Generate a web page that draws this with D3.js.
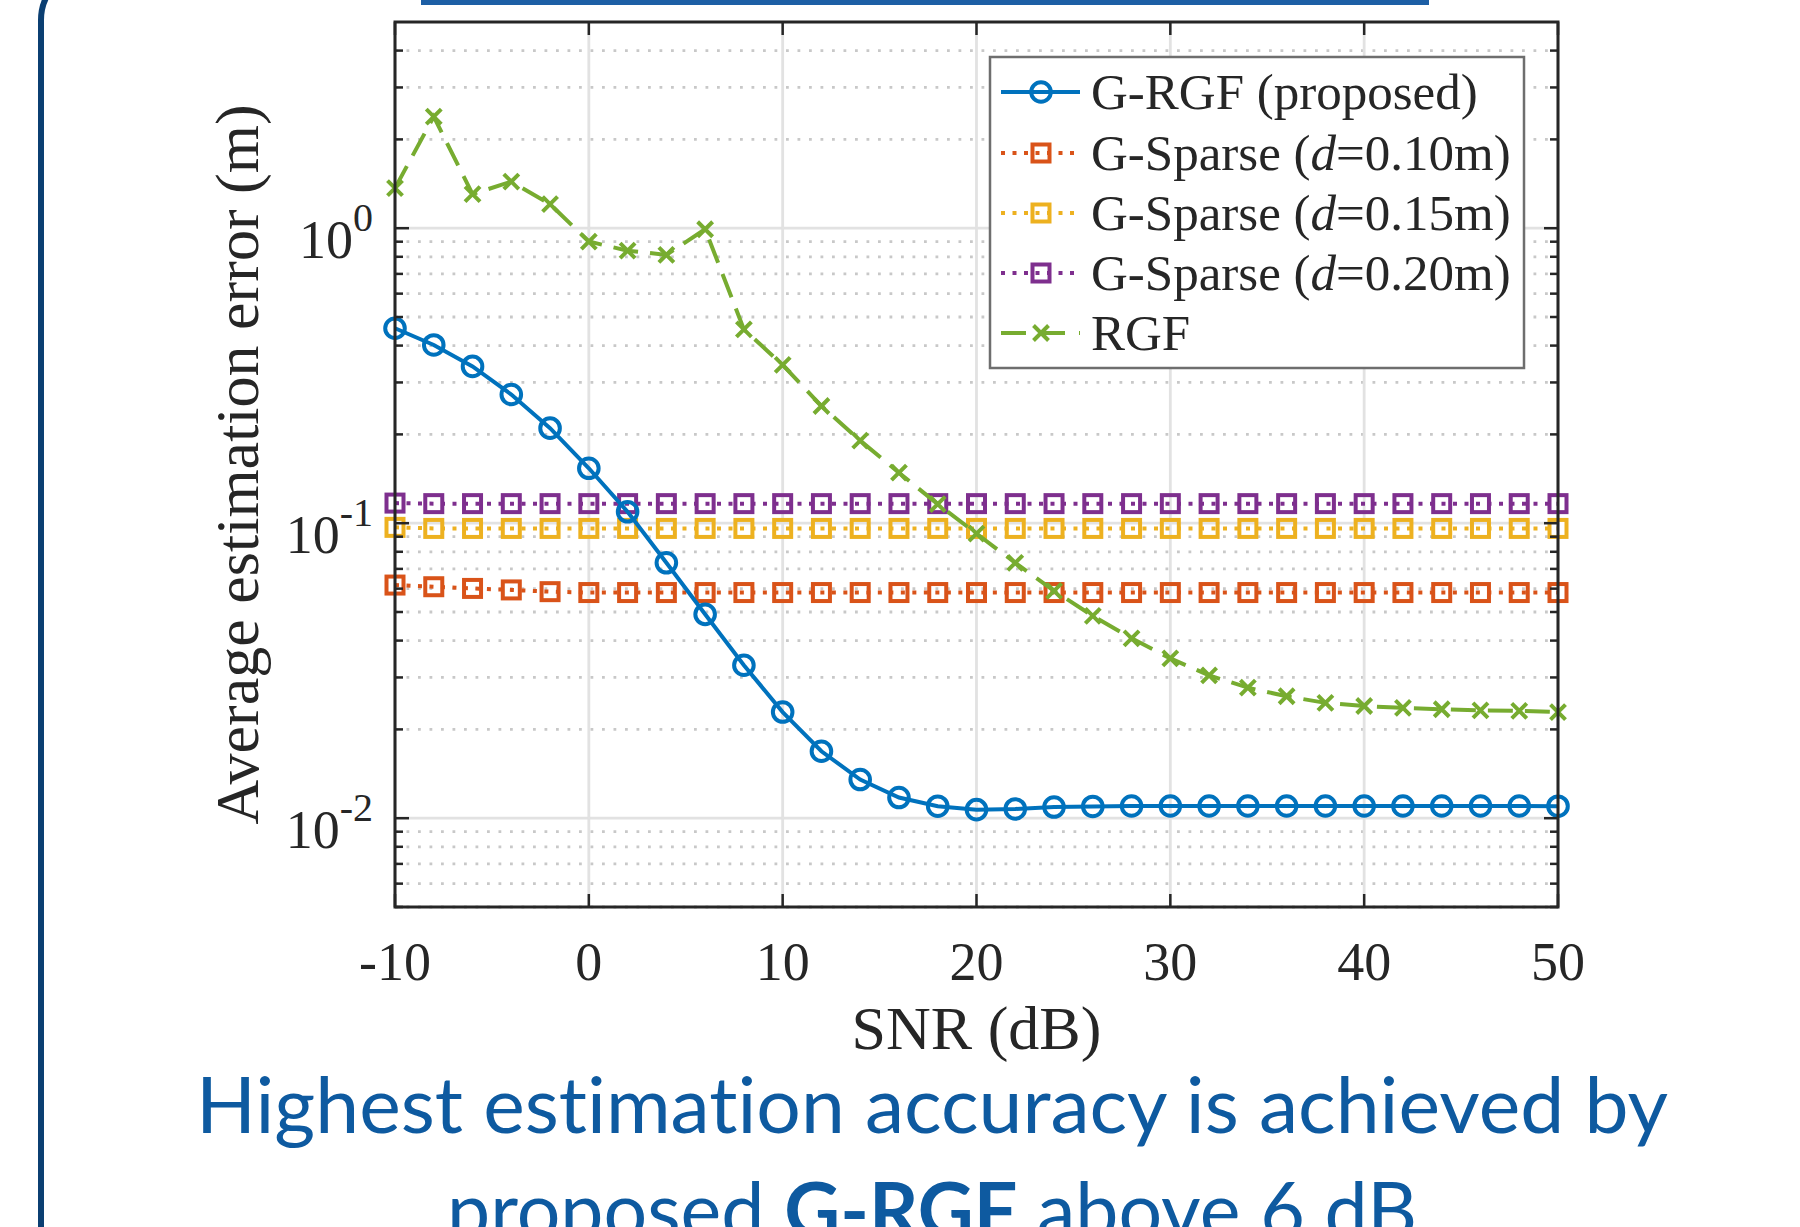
<!DOCTYPE html>
<html><head><meta charset="utf-8">
<script src="https://cdn.jsdelivr.net/npm/d3@7"></script>
<style>body{margin:0;background:#fff;} svg{display:block} text{font-variant-ligatures:none;font-feature-settings:"liga" 0;}</style>
</head><body>
<svg id="c" width="1800" height="1227"></svg>
<script>
// ---------------- data ----------------
const snrDb = [-10,-8,-6,-4,-2,0,2,4,6,8,10,12,14,16,18,20,22,24,26,28,30,32,34,36,38,40,42,44,46,48,50];
const gRGF = [0.458,0.402,0.340,0.273,0.210,0.1535,0.1093,0.0734,0.0491,0.0330,0.0229,0.01686,0.01352,0.01175,0.01098,
              0.01069,0.01075,0.01091,0.01096,0.0110,0.0110,0.0110,0.0110,0.0110,0.0110,0.0110,0.0110,0.0110,0.0110,0.0110,0.01098];
const gSparse010 = [0.0617,0.0609,0.0601,0.0594,0.0586,0.0582,0.0582,0.0582,0.0582,0.0582,0.0582,0.0582,0.0582,0.0582,0.0582,0.0582,
                    0.0582,0.0582,0.0582,0.0582,0.0582,0.0582,0.0582,0.0582,0.0582,0.0582,0.0582,0.0582,0.0582,0.0582,0.0582];
const gSparse015 = [0.0968,0.0960,0.0960,0.0960,0.0960,0.0960,0.0960,0.0960,0.0960,0.0960,0.0960,0.0960,0.0960,0.0960,0.0960,0.0960,
                    0.0960,0.0960,0.0960,0.0960,0.0960,0.0960,0.0960,0.0960,0.0960,0.0960,0.0960,0.0960,0.0960,0.0960,0.0960];
const gSparse020 = [0.1170,0.1165,0.1165,0.1165,0.1165,0.1165,0.1165,0.1165,0.1165,0.1165,0.1165,0.1165,0.1165,0.1165,0.1165,0.1165,
                    0.1165,0.1165,0.1165,0.1165,0.1165,0.1165,0.1165,0.1165,0.1165,0.1165,0.1165,0.1165,0.1165,0.1165,0.1165];
const rgf = [1.367,2.39,1.304,1.439,1.206,0.901,0.839,0.812,0.992,0.454,
             0.344,0.2496,0.1905,0.1483,0.1161,0.0922,0.0734,0.0590,0.0485,0.0407,0.0348,
             0.0305,0.0277,0.0259,0.0246,0.0240,0.02365,0.0234,0.0232,0.0231,0.0229];
const xTicks = [-10,0,10,20,30,40,50];
const xTickLabels = ["-10","0","10","20","30","40","50"];
const yMajor = [0.01,0.1,1];
const yTickExp = ["-2","-1","0"];
const yMinor = [0.005,0.006,0.007,0.008,0.009,0.02,0.03,0.04,0.05,0.06,0.07,0.08,0.09,0.2,0.3,0.4,0.5,0.6,0.7,0.8,0.9,2,3,4];
const seriesNames = ["G-RGF (proposed)","G-Sparse (d=0.10m)","G-Sparse (d=0.15m)","G-Sparse (d=0.20m)","RGF"];
const xLabel = "SNR (dB)";
const yLabel = "Average estimation error (m)";
const captionLine1 = "Highest estimation accuracy is achieved by";

// ---------------- setup ----------------
const svg = d3.select("#c");
const L = 395, R = 1558, T = 22, B = 907;
const x = d3.scaleLinear().domain([-10, 50]).range([L, R]);
const y = d3.scaleLog().domain([0.005, 5]).range([B, T]);
const serif = "'Liberation Serif','Times New Roman',serif";
const ink = "#262626";

// slide frame
svg.append("rect").attr("x", 41).attr("y", -30).attr("width", 2000).attr("height", 1400)
  .attr("rx", 50).attr("fill", "none").attr("stroke", "#0b3f72").attr("stroke-width", 6);
svg.append("rect").attr("x", 421).attr("y", 0).attr("width", 1008).attr("height", 5).attr("fill", "#1d5fa5");

// plot background
svg.append("rect").attr("x", L).attr("y", T).attr("width", R - L).attr("height", B - T).attr("fill", "#fff");

// grid
const grid = svg.append("g");
grid.selectAll("line.minor").data(yMinor).join("line")
  .attr("x1", L).attr("x2", R).attr("y1", d => y(d)).attr("y2", d => y(d))
  .attr("stroke", "#c8c8c8").attr("stroke-width", 2.8).attr("stroke-dasharray", "2.8 8.7");
grid.selectAll("line.majy").data(yMajor).join("line")
  .attr("x1", L).attr("x2", R).attr("y1", d => y(d)).attr("y2", d => y(d))
  .attr("stroke", "#e2e2e2").attr("stroke-width", 2.8);
grid.selectAll("line.majx").data(xTicks).join("line")
  .attr("x1", d => x(d)).attr("x2", d => x(d)).attr("y1", T).attr("y2", B)
  .attr("stroke", "#e2e2e2").attr("stroke-width", 2.8);

// series
const colors = ["#0072BD", "#D95319", "#EDB120", "#7E2F8E", "#77AC30"];
const values = [gRGF, gSparse010, gSparse015, gSparse020, rgf];
const dashes = [null, "4 7.5", "4 7.5", "4 7.5", "25 12"];
const markers = ["circle", "square", "square", "square", "x"];
const line = d3.line().x(d => x(d[0])).y(d => y(d[1]));

function drawMarker(g, type, cx, cy, color) {
  if (type === "circle") {
    g.append("circle").attr("cx", cx).attr("cy", cy).attr("r", 9.8)
      .attr("fill", "none").attr("stroke", color).attr("stroke-width", 4);
  } else if (type === "square") {
    g.append("rect").attr("x", cx - 8.5).attr("y", cy - 8.5).attr("width", 17).attr("height", 17)
      .attr("fill", "none").attr("stroke", color).attr("stroke-width", 4);
  } else {
    const s = 7.5;
    g.append("path").attr("d", `M${cx - s},${cy - s}L${cx + s},${cy + s}M${cx - s},${cy + s}L${cx + s},${cy - s}`)
      .attr("stroke", color).attr("stroke-width", 4).attr("fill", "none");
  }
}

const order = [1, 2, 3, 4, 0];
order.forEach(i => {
  const pts = snrDb.map((s, k) => [s, values[i][k]]);
  const g = svg.append("g");
  g.append("path").attr("d", line(pts)).attr("fill", "none")
    .attr("stroke", colors[i]).attr("stroke-width", 4)
    .attr("stroke-dasharray", dashes[i]);
  pts.forEach(p => drawMarker(g, markers[i], x(p[0]), y(p[1]), colors[i]));
});

// axes box & ticks
const ax = svg.append("g");
ax.append("rect").attr("x", L).attr("y", T).attr("width", R - L).attr("height", B - T)
  .attr("fill", "none").attr("stroke", ink).attr("stroke-width", 3);
xTicks.forEach(v => {
  ax.append("line").attr("x1", x(v)).attr("x2", x(v)).attr("y1", B).attr("y2", B - 13).attr("stroke", ink).attr("stroke-width", 2.5);
  ax.append("line").attr("x1", x(v)).attr("x2", x(v)).attr("y1", T).attr("y2", T + 13).attr("stroke", ink).attr("stroke-width", 2.5);
});
yMajor.forEach(v => {
  ax.append("line").attr("x1", L).attr("x2", L + 14).attr("y1", y(v)).attr("y2", y(v)).attr("stroke", ink).attr("stroke-width", 2.5);
  ax.append("line").attr("x1", R).attr("x2", R - 14).attr("y1", y(v)).attr("y2", y(v)).attr("stroke", ink).attr("stroke-width", 2.5);
});
yMinor.forEach(v => {
  ax.append("line").attr("x1", L).attr("x2", L + 8).attr("y1", y(v)).attr("y2", y(v)).attr("stroke", ink).attr("stroke-width", 2.5);
  ax.append("line").attr("x1", R).attr("x2", R - 8).attr("y1", y(v)).attr("y2", y(v)).attr("stroke", ink).attr("stroke-width", 2.5);
});

// tick labels
xTicks.forEach((v, i) => {
  ax.append("text").attr("x", x(v)).attr("y", 980).attr("text-anchor", "middle")
    .attr("font-family", serif).attr("font-size", 54).attr("fill", ink).text(xTickLabels[i]);
});
yMajor.forEach((v, i) => {
  const t = ax.append("text").attr("x", 373).attr("y", y(v) + 30).attr("text-anchor", "end")
    .attr("font-family", serif).attr("font-size", 54).attr("fill", ink);
  t.append("tspan").text("10");
  t.append("tspan").attr("dy", -27).attr("font-size", 40).text(yTickExp[i]);
});

// axis labels
svg.append("text").attr("x", (L + R) / 2).attr("y", 1049).attr("text-anchor", "middle")
  .attr("font-family", serif).attr("font-size", 62).attr("fill", ink).text(xLabel);
svg.append("text").attr("transform", `translate(258,${(T + B) / 2}) rotate(-90)`).attr("text-anchor", "middle")
  .attr("font-family", serif).attr("font-size", 62).attr("fill", ink).text(yLabel);

// legend
const lg = svg.append("g");
lg.append("rect").attr("x", 990).attr("y", 57).attr("width", 534).attr("height", 311)
  .attr("fill", "#fff").attr("stroke", "#6e6e6e").attr("stroke-width", 2.5);
const rowY = [92, 153, 213, 273, 333];
seriesNames.forEach((name, i) => {
  const cy = rowY[i];
  lg.append("line").attr("x1", 1001).attr("x2", 1080).attr("y1", cy).attr("y2", cy)
    .attr("stroke", colors[i]).attr("stroke-width", 4).attr("stroke-dasharray", i === 4 ? "25 14" : dashes[i]);
  drawMarker(lg, markers[i], 1041, cy, colors[i]);
  const t = lg.append("text").attr("x", 1091).attr("y", cy + 17)
    .attr("font-family", serif).attr("font-size", 51).attr("fill", ink);
  const m = name.match(/^(.*\()d(=.*)$/);
  if (m) {
    t.append("tspan").text(m[1]);
    t.append("tspan").attr("font-style", "italic").text("d");
    t.append("tspan").text(m[2]);
  } else {
    t.text(name);
  }
});

// caption
const cap = "'Lato','Open Sans',sans-serif";
svg.append("text").attr("x", 932).attr("y", 1133).attr("text-anchor", "middle")
  .attr("font-family", cap).attr("font-size", 77).attr("fill", "#0e5aa0")
  .attr("textLength", 1472).attr("lengthAdjust", "spacingAndGlyphs").text(captionLine1);
const c2 = svg.append("text").attr("x", 932).attr("y", 1238).attr("text-anchor", "middle")
  .attr("font-family", cap).attr("font-size", 77).attr("fill", "#0e5aa0")
  .attr("textLength", 970).attr("lengthAdjust", "spacingAndGlyphs");
c2.append("tspan").text("proposed ");
c2.append("tspan").attr("font-weight", "bold").text("G-RGF");
c2.append("tspan").text(" above 6 dB");
</script>
</body></html>
